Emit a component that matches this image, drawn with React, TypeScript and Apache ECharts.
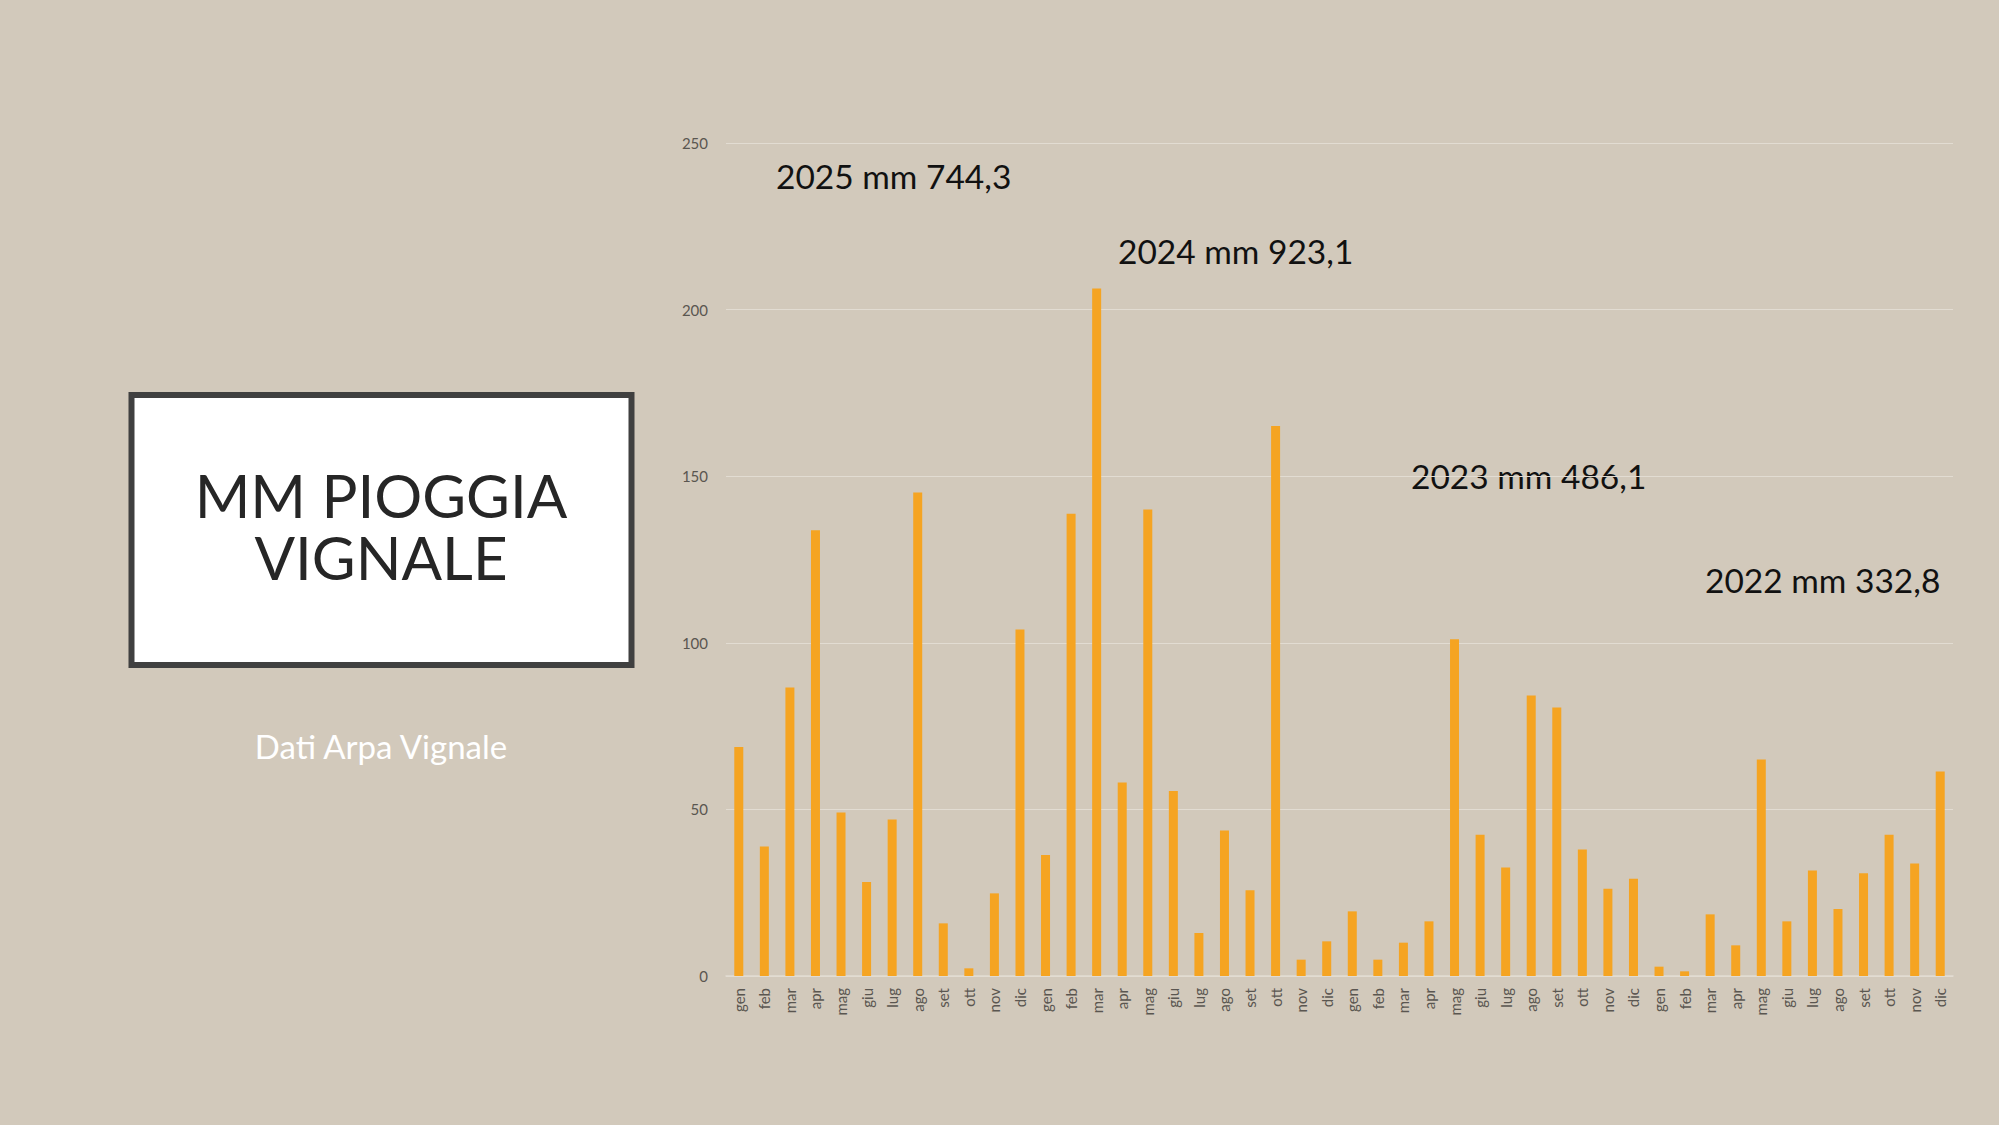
import React, { useEffect, useRef } from "react";
import * as echarts from "echarts";

const months = ["gen", "feb", "mar", "apr", "mag", "giu", "lug", "ago", "set", "ott", "nov", "dic"];
const years = ["2025", "2024", "2023", "2022"];
const rain2025 = [68.7, 38.9, 86.6, 133.8, 49.1, 28.2, 47.0, 145.1, 15.8, 2.3, 24.8, 104.0];
const rain2024 = [36.3, 138.7, 206.3, 58.1, 140.0, 55.5, 12.9, 43.7, 25.7, 165.1, 4.9, 10.4];
const rain2023 = [19.4, 4.9, 10.0, 16.4, 101.1, 42.4, 32.6, 84.2, 80.6, 38.0, 26.2, 29.2];
const rain2022 = [2.8, 1.4, 18.5, 9.2, 65.0, 16.4, 31.7, 20.1, 30.8, 42.4, 33.8, 61.4];
const yearTotals = ["2025 mm 744,3", "2024 mm 923,1", "2023 mm 486,1", "2022 mm 332,8"];
const yTicks = [0, 50, 100, 150, 200, 250];

const title = ["MM PIOGGIA", "VIGNALE"];
const subtitle = "Dati Arpa Vignale";

const FONT = "Lato, 'Open Sans', sans-serif";

export default function App() {
  const ref = useRef<HTMLDivElement>(null);
  useEffect(() => {
    document.body.style.margin = "0";
    const chart = echarts.init(ref.current!, null, { renderer: "svg" });
    const categories: string[] = [];
    years.forEach(() => months.forEach((m) => categories.push(m)));
    const values = [...rain2025, ...rain2024, ...rain2023, ...rain2022];
    const annPos = [
      [776, 176],
      [1118, 251],
      [1411, 476],
      [1705, 580],
    ];
    chart.setOption({
      animation: false,
      backgroundColor: "#D2C9BB",
      textStyle: { fontFamily: FONT },
      grid: { left: 726, right: 46, top: 143, bottom: 149, containLabel: false },
      xAxis: {
        type: "category",
        data: categories,
        axisLine: { show: true, lineStyle: { color: "#E2DCD2", width: 1.5 } },
        axisTick: { show: false },
        axisLabel: {
          interval: 0,
          rotate: 90,
          margin: 12,
          fontSize: 15,
          color: "#5A5650",
          fontFamily: FONT,
        },
      },
      yAxis: {
        type: "value",
        min: yTicks[0],
        max: yTicks[yTicks.length - 1],
        interval: 50,
        axisLine: { show: false },
        axisTick: { show: false },
        splitLine: { lineStyle: { color: "#E2DCD2", width: 1.2 } },
        axisLabel: { fontSize: 15, color: "#5A5650", margin: 18, fontFamily: FONT },
      },
      series: [
        {
          type: "bar",
          data: values,
          barWidth: 9,
          itemStyle: { color: "#F5A422" },
        },
      ],
      graphic: [
        {
          type: "rect",
          shape: { x: 131.5, y: 395, width: 500, height: 270 },
          style: { fill: "#FFFFFF", stroke: "#404040", lineWidth: 6 },
        },
        {
          type: "text",
          x: 381,
          y: 526,
          style: {
            text: title.join("\n"),
            font: `60px ${FONT}`,
            lineHeight: 62,
            fill: "#262626",
            textAlign: "center",
            textVerticalAlign: "middle",
          },
        },
        {
          type: "text",
          x: 381,
          y: 746,
          style: {
            text: subtitle,
            font: `33px ${FONT}`,
            fill: "#FFFFFF",
            textAlign: "center",
            textVerticalAlign: "middle",
          },
        },
        ...yearTotals.map((t, i) => ({
          type: "text",
          x: annPos[i][0],
          y: annPos[i][1],
          style: {
            text: t,
            font: `33.5px ${FONT}`,
            fill: "#111111",
            textAlign: "left",
            textVerticalAlign: "middle",
          },
        })),
      ],
    });
    return () => chart.dispose();
  }, []);
  return (
    <div
      ref={ref}
      style={{ position: "fixed", left: 0, top: 0, width: 1999, height: 1125 }}
    />
  );
}
